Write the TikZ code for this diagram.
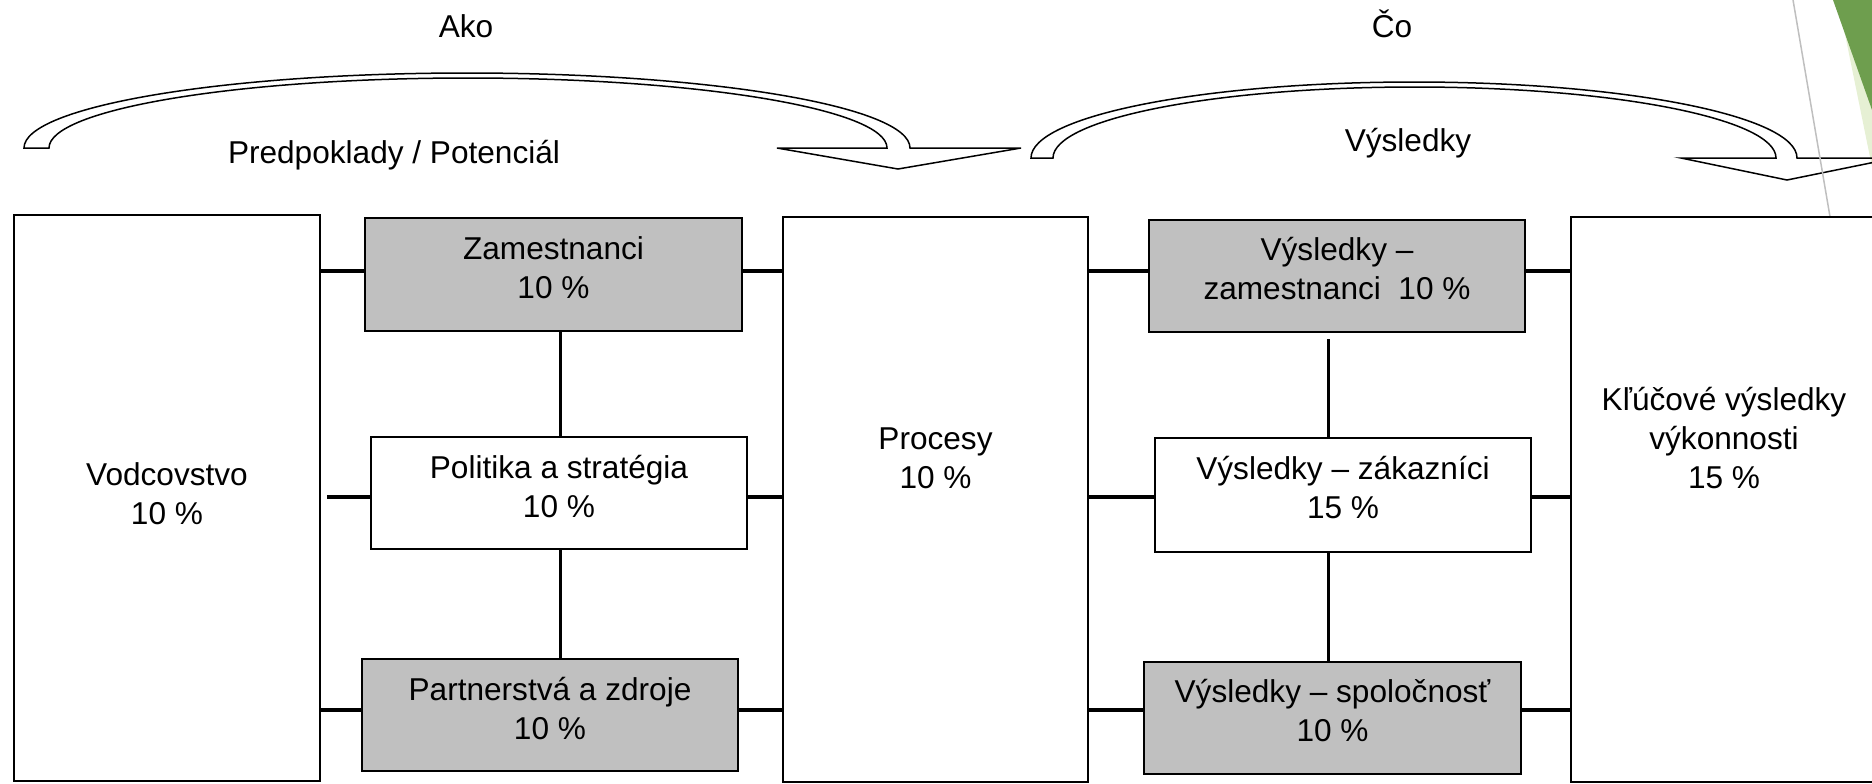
\documentclass[tikz,border=0pt]{standalone}
\usepackage{fontspec}
\setmainfont{Liberation Sans}
\usetikzlibrary{fit}
\definecolor{boxgrey}{HTML}{C0C0C0}
\definecolor{rulegrey}{HTML}{BFBFBF}
\definecolor{leafdark}{HTML}{6E9E4E}
\definecolor{leaflight}{HTML}{E6F0D4}
\begin{document}
\begin{tikzpicture}[x=0.5pt,y=-0.5pt,
  every node/.style={inner sep=0pt, outer sep=0pt},
  box/.style={draw=black, line width=0.75pt, fill=white},
  greybox/.style={box, fill=boxgrey},
  txt/.style={font=\fontsize{15.8pt}{19.5pt}\selectfont, align=center, anchor=base},
  hconn/.style={draw=black, line width=2.25pt},
  vconn/.style={draw=black, line width=1.5pt},
  bendarrow/.style={draw=black, line width=0.75pt, line join=miter},
]
\useasboundingbox (0,0) rectangle (1872,783);
\clip (0,0) rectangle (1872,783);

% corner accents
\fill[leaflight] (1838,0) -- (1872,0) -- (1872,167) -- cycle;
\fill[leafdark] (1833,0) -- (1872,0) -- (1872,110) -- cycle;

% curved arrows over the two halves
\draw[bendarrow] (24,148)
  arc[start angle=180, end angle=0, x radius=221.5pt, y radius=37.5pt]
  -- (1021,148) -- (898,169) -- (777,148) -- (887,148)
  arc[start angle=0, end angle=180, x radius=209.5pt, y radius=35pt] -- cycle;
\draw[bendarrow] (1031,158)
  arc[start angle=180, end angle=0, x radius=191.5pt, y radius=38pt]
  -- (1895,158) -- (1787,180) -- (1681,158) -- (1776,158)
  arc[start angle=0, end angle=180, x radius=180.75pt, y radius=35.5pt] -- cycle;

% thin guide line
\draw[rulegrey, line width=0.75pt] (1793,0) -- (1843,293);

% boxes
\node[box, fit={(14,215) (320,781)}] (vod) {};
\node[greybox, fit={(365,218) (742,331)}] (zam) {};
\node[box, fit={(371,437) (747,549)}] (pol) {};
\node[greybox, fit={(362,659) (738,771)}] (par) {};
\node[box, fit={(783,217) (1088,782)}] (pro) {};
\node[greybox, fit={(1149,220) (1525,332)}] (vzam) {};
\node[box, fit={(1155,438) (1531,552)}] (vzak) {};
\node[greybox, fit={(1144,662) (1521,774)}] (vspo) {};
\node[box, fit={(1571,217) (1877,782)}] (klu) {};

% rows and columns of the connectors
\coordinate (rowA) at (0,271);
\coordinate (rowB) at (0,497);
\coordinate (rowC) at (0,710);
\coordinate (colL) at (560,0);
\coordinate (colR) at (1328,0);

% horizontal connectors
\draw[hconn] (vod.east |- rowA) -- (zam.west |- rowA);
\draw[hconn] (zam.east |- rowA) -- (pro.west |- rowA);
\draw[hconn, shorten <=3.5pt] (vod.east |- rowB) -- (pol.west |- rowB);
\draw[hconn] (pol.east |- rowB) -- (pro.west |- rowB);
\draw[hconn] (vod.east |- rowC) -- (par.west |- rowC);
\draw[hconn] (par.east |- rowC) -- (pro.west |- rowC);
\draw[hconn] (pro.east |- rowA) -- (vzam.west |- rowA);
\draw[hconn] (vzam.east |- rowA) -- (klu.west |- rowA);
\draw[hconn] (pro.east |- rowB) -- (vzak.west |- rowB);
\draw[hconn] (vzak.east |- rowB) -- (klu.west |- rowB);
\draw[hconn] (pro.east |- rowC) -- (vspo.west |- rowC);
\draw[hconn] (vspo.east |- rowC) -- (klu.west |- rowC);

% vertical connectors
\draw[vconn] (zam.south -| colL) -- (pol.north -| colL);
\draw[vconn] (pol.south -| colL) -- (par.north -| colL);
\draw[vconn, shorten <=3.5pt] (vzam.south -| colR) -- (vzak.north -| colR);
\draw[vconn] (vzak.south -| colR) -- (vspo.north -| colR);

% box texts (placed by the baseline of their last line)
\node[txt] (vodT) at (167,524) {Vodcovstvo\\10 \%};
\node[txt] (zamT) at (553.5,298) {Zamestnanci\\10 \%};
\node[txt] (polT) at (559,517) {Politika a stratégia\\10 \%};
\node[txt] (parT) at (550,739) {Partnerstvá a zdroje\\10 \%};
\node[txt] (proT) at (935.5,488) {Procesy\\10 \%};
\node[txt] (vzamT) at (1337,299) {Výsledky –\\zamestnanci\ \ 10 \%};
\node[txt] (vzakT) at (1343,518) {Výsledky – zákazníci\\15 \%};
\node[txt] (vspoT) at (1332.5,741) {Výsledky – spoločnosť\\10 \%};
\node[txt] (kluT) at (1724,488) {Kľúčové výsledky\\výkonnosti\\15 \%};

% labels over the arrows
\node[txt] (ako) at (466,37) {Ako};
\node[txt] (co) at (1392,37) {Čo};
\node[txt] (pred) at (394,163) {Predpoklady / Potenciál};
\node[txt] (vys) at (1408,151) {Výsledky};
\end{tikzpicture}
\end{document}
